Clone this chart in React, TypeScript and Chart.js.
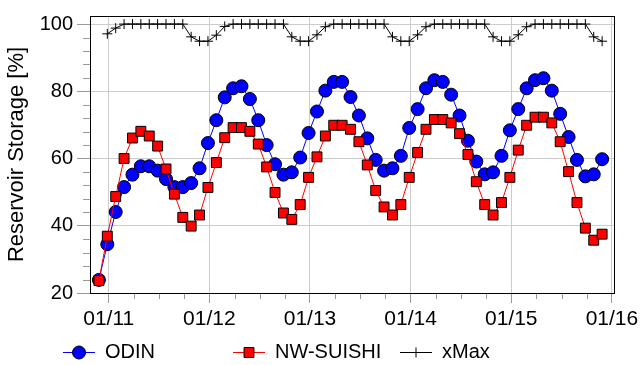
import React, { useEffect, useRef } from 'react';
import { Chart, registerables } from 'chart.js';
import { drawPoint } from 'chart.js/helpers';

Chart.register(...registerables);

// Monthly sample dates (plotted near the end of each month)
const dates = [
  '2010-11-26', '2010-12-26',
  '2011-01-26', '2011-02-26', '2011-03-26', '2011-04-26', '2011-05-26', '2011-06-26',
  '2011-07-26', '2011-08-26', '2011-09-26', '2011-10-26', '2011-11-26', '2011-12-26',
  '2012-01-26', '2012-02-26', '2012-03-26', '2012-04-26', '2012-05-26', '2012-06-26',
  '2012-07-26', '2012-08-26', '2012-09-26', '2012-10-26', '2012-11-26', '2012-12-26',
  '2013-01-26', '2013-02-26', '2013-03-26', '2013-04-26', '2013-05-26', '2013-06-26',
  '2013-07-26', '2013-08-26', '2013-09-26', '2013-10-26', '2013-11-26', '2013-12-26',
  '2014-01-26', '2014-02-26', '2014-03-26', '2014-04-26', '2014-05-26', '2014-06-26',
  '2014-07-26', '2014-08-26', '2014-09-26', '2014-10-26', '2014-11-26', '2014-12-26',
  '2015-01-26', '2015-02-26', '2015-03-26', '2015-04-26', '2015-05-26', '2015-06-26',
  '2015-07-26', '2015-08-26', '2015-09-26', '2015-10-26', '2015-11-26',
];

const odin = [
  23.9, 34.5, 44.1, 51.5, 55.2, 57.7, 57.7, 56.4, 53.9, 51.5,
  51.5, 52.7, 57.1, 64.6, 71.4, 78.2, 80.9, 81.5, 77.7, 71.4,
  64.0, 58.3, 55.2, 55.9, 60.3, 67.6, 74.0, 80.2, 82.8, 82.8,
  78.3, 72.8, 66.0, 59.6, 56.4, 57.1, 60.8, 69.1, 74.7, 80.9,
  83.3, 82.8, 79.0, 72.8, 65.3, 59.1, 55.3, 55.9, 60.8, 68.4,
  74.7, 80.9, 83.3, 83.9, 80.2, 73.3, 66.4, 59.6, 54.7, 55.3, 59.8,
];

const nwSuishi = [
  23.7, 36.9, 48.7, 60.0, 66.1, 68.1, 66.7, 63.7, 56.9, 49.4,
  42.5, 39.9, 43.2, 51.4, 58.8, 66.2, 69.2, 69.2, 68.1, 64.3,
  57.5, 49.9, 43.8, 41.9, 46.3, 54.4, 60.5, 66.7, 69.9, 69.9,
  68.7, 65.0, 58.1, 50.5, 45.6, 43.2, 46.3, 54.4, 61.8, 68.7,
  71.6, 71.6, 70.6, 67.4, 61.2, 53.1, 46.3, 43.2, 46.9, 54.4,
  62.5, 69.9, 72.3, 72.3, 70.6, 65.0, 56.1, 46.9, 39.3, 35.7, 37.5,
];

const xMax = [
  null, 97.1, 98.8, 100, 100, 100, 100, 100, 100, 100,
  100, 96.2, 94.9, 94.9, 96.7, 99.3, 100, 100, 100, 100,
  100, 100, 100, 96.2, 94.9, 94.9, 96.8, 99.2, 100, 100,
  100, 100, 100, 100, 100, 96.2, 94.9, 94.9, 96.8, 99.2,
  100, 100, 100, 100, 100, 100, 100, 96.2, 94.9, 94.9,
  96.8, 99.2, 100, 100, 100, 100, 100, 100, 100, 96.2, 94.9,
];

const seriesNames = ['ODIN', 'NW-SUISHI', 'xMax'];

// x axis: months since 01/2011; quarterly minor ticks, yearly labels
const xTickValues = [0, 3, 6, 9, 12, 15, 18, 21, 24, 27, 30, 33, 36, 39, 42, 45, 48, 51, 54, 57, 60];
const yearTickLabels = ['01/11', '01/12', '01/13', '01/14', '01/15', '01/16'];

// y axis: minor ticks every 4, labels every 20
const yTickValues = [20, 24, 28, 32, 36, 40, 44, 48, 52, 56, 60, 64, 68, 72, 76, 80, 84, 88, 92, 96, 100];

const X_MIN = -2.23;
const X_MAX = 60.25;
const Y_MIN = 20;
const Y_MAX = 102.4;

const LEGEND_X = [63, 233, 400];
const LEGEND_Y = 352;

function toMonthPos(d: string): number {
  const [y, m, day] = d.split('-').map(Number);
  return (y - 2011) * 12 + (m - 1) + (day - 1) / 30;
}

const isMajorY = (v: number) => v % 20 === 0;
const isMajorX = (v: number) => v % 12 === 0;

const framePlugin = {
  id: 'frameAndMinorTicks',
  beforeDatasetsDraw(chart: any) {
    const { ctx, chartArea: a, scales } = chart;
    ctx.save();
    // minor ticks
    ctx.strokeStyle = '#9a9a9a';
    ctx.lineWidth = 1;
    ctx.beginPath();
    scales.y.ticks.forEach((t: any) => {
      if (!isMajorY(t.value)) {
        const y = Math.round(scales.y.getPixelForValue(t.value)) + 0.5;
        ctx.moveTo(a.left - 7, y);
        ctx.lineTo(a.left, y);
      }
    });
    scales.x.ticks.forEach((t: any) => {
      if (!isMajorX(t.value)) {
        const x = Math.round(scales.x.getPixelForValue(t.value)) + 0.5;
        ctx.moveTo(x, a.bottom);
        ctx.lineTo(x, a.bottom + 6);
      }
    });
    ctx.stroke();
    // frame
    ctx.strokeStyle = '#000';
    ctx.lineWidth = 1;
    ctx.strokeRect(
      Math.round(a.left) + 0.5,
      Math.round(a.top) + 0.5,
      Math.round(a.right - a.left),
      Math.round(a.bottom - a.top)
    );
    ctx.restore();
  },
};

const legendPlugin = {
  id: 'bottomLegend',
  afterDraw(chart: any) {
    const { ctx } = chart;
    ctx.save();
    chart.data.datasets.forEach((ds: any, i: number) => {
      const x0 = LEGEND_X[i];
      ctx.strokeStyle = ds.borderColor;
      ctx.lineWidth = 1;
      ctx.beginPath();
      ctx.moveTo(x0, LEGEND_Y + 0.5);
      ctx.lineTo(x0 + 32, LEGEND_Y + 0.5);
      ctx.stroke();
      ctx.fillStyle = ds.pointBackgroundColor;
      ctx.strokeStyle = ds.pointBorderColor;
      ctx.lineWidth = ds.pointBorderWidth;
      drawPoint(ctx, {
        pointStyle: ds.pointStyle,
        radius: ds.pointRadius,
        rotation: 0,
        borderWidth: ds.pointBorderWidth,
      } as any, x0 + 16, LEGEND_Y + 0.5);
      ctx.fillStyle = '#000';
      ctx.font = "20px 'Liberation Sans', Arial, sans-serif";
      ctx.textBaseline = 'middle';
      ctx.textAlign = 'left';
      ctx.fillText(ds.label, x0 + 42, LEGEND_Y);
    });
    ctx.restore();
  },
};

export default function App() {
  const canvasRef = useRef<HTMLCanvasElement | null>(null);

  useEffect(() => {
    document.body.style.margin = '0';
    const canvas = canvasRef.current;
    if (!canvas) return;

    const xs = dates.map(toMonthPos);
    const mk = (vals: (number | null)[]) => vals.map((v, i) => ({ x: xs[i], y: v }));

    Chart.defaults.font.family = "'Liberation Sans', Arial, sans-serif";
    Chart.defaults.color = '#000';

    const chart = new Chart(canvas, {
      type: 'line',
      data: {
        datasets: [
          {
            label: seriesNames[0],
            data: mk(odin),
            borderColor: '#0000ff',
            borderWidth: 1,
            pointStyle: 'circle',
            pointRadius: 6.5,
            pointBackgroundColor: '#0000ff',
            pointBorderColor: '#000',
            pointBorderWidth: 1,
            tension: 0,
            order: 3,
          },
          {
            label: seriesNames[1],
            data: mk(nwSuishi),
            borderColor: '#ff0000',
            borderWidth: 1,
            pointStyle: 'rect',
            pointRadius: 7,
            pointBackgroundColor: '#ff0000',
            pointBorderColor: '#000',
            pointBorderWidth: 1,
            tension: 0,
            order: 2,
          },
          {
            label: seriesNames[2],
            data: mk(xMax),
            borderColor: '#000',
            borderWidth: 1,
            pointStyle: 'cross',
            pointRadius: 5,
            pointBackgroundColor: '#000',
            pointBorderColor: '#000',
            pointBorderWidth: 1,
            tension: 0,
            order: 1,
          },
        ] as any,
      },
      options: {
        animation: false,
        responsive: true,
        maintainAspectRatio: false,
        layout: {
          autoPadding: false,
          padding: { left: 0, right: 29, top: 13, bottom: 37 },
        } as any,
        plugins: {
          legend: { display: false },
          tooltip: { enabled: false },
        },
        scales: {
          x: {
            type: 'linear',
            min: X_MIN,
            max: X_MAX,
            afterBuildTicks: (scale: any) => {
              scale.ticks = xTickValues.map((v) => ({ value: v }));
            },
            afterFit: (scale: any) => {
              scale.height = 35;
            },
            ticks: {
              autoSkip: false,
              maxRotation: 0,
              padding: 4,
              font: { size: 21 },
              color: '#000',
              callback: (v: any) => (isMajorX(Number(v)) ? yearTickLabels[Number(v) / 12] : ''),
            },
            grid: {
              drawTicks: true,
              tickLength: 10,
              color: (c: any) => (c.tick && isMajorX(c.tick.value) ? '#cccccc' : 'rgba(0,0,0,0)'),
              tickColor: (c: any) => (c.tick && isMajorX(c.tick.value) ? '#9a9a9a' : 'rgba(0,0,0,0)'),
            },
            border: { display: false },
          },
          y: {
            type: 'linear',
            min: Y_MIN,
            max: Y_MAX,
            afterBuildTicks: (scale: any) => {
              scale.ticks = yTickValues.map((v) => ({ value: v }));
            },
            afterFit: (scale: any) => {
              scale.width = 90;
            },
            ticks: {
              autoSkip: false,
              padding: 4,
              font: { size: 20 },
              color: '#000',
              callback: (v: any) => (isMajorY(Number(v)) ? String(v) : ''),
            },
            grid: {
              drawTicks: true,
              tickLength: 13,
              color: (c: any) => (c.tick && isMajorY(c.tick.value) ? '#cccccc' : 'rgba(0,0,0,0)'),
              tickColor: (c: any) => (c.tick && isMajorY(c.tick.value) ? '#9a9a9a' : 'rgba(0,0,0,0)'),
            },
            border: { display: false },
            title: {
              display: true,
              text: 'Reservoir Storage [%]',
              font: { size: 22 },
              color: '#000',
              padding: { top: 4, bottom: 0 },
            },
          },
        },
      },
      plugins: [framePlugin, legendPlugin],
    });

    return () => chart.destroy();
  }, []);

  return (
    <div style={{ width: 643, height: 365, position: 'relative' }}>
      <canvas ref={canvasRef} />
    </div>
  );
}
